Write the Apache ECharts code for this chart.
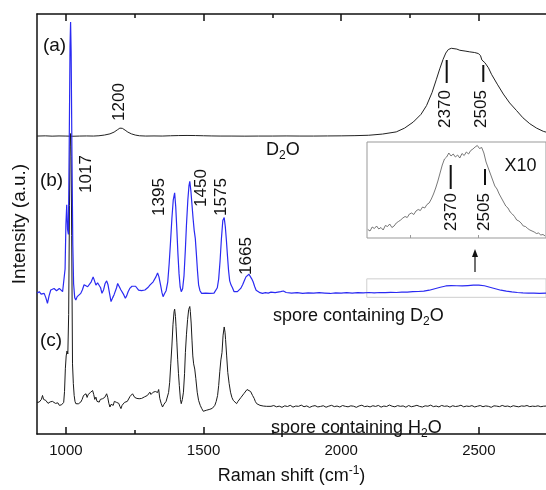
<!DOCTYPE html>
<html>
<head>
<meta charset="utf-8">
<script src="https://cdn.jsdelivr.net/npm/echarts@6/dist/echarts.min.js"></script>
<style>
  html, body { margin: 0; padding: 0; background: #fff; }
  #chart { width: 546px; height: 490px; }
</style>
</head>
<body>
<div id="chart"></div>
<script>
// Raman spectra: (a) D2O, (b) spore containing D2O, (c) spore containing H2O.
// Intensities are counts above each trace's own baseline; traces are stacked by an offset.

const X_MIN = 895;
const X_MAX = 2744;
const MAJOR_TICKS = [1000, 1500, 2000, 2500];
const MINOR_TICKS = [1250, 1750, 2250];
const INSET_TICKS = [2250, 2500];

// (a) pure D2O
const D2O = [
  [895,0],[925,2],[950,-1],[975,1],[1000,0],[1025,-2],[1050,0],[1075,1],[1100,0],
  [1120,3],[1140,10],[1160,22],[1175,40],[1188,65],[1196,80],[1200,82],[1205,78],
  [1215,60],[1225,40],[1238,22],[1252,10],[1267,3],[1290,0],[1320,1],[1350,0],
  [1380,3],[1410,5],[1440,6],[1470,5],[1500,3],[1530,1],[1560,0],[1600,0],[1650,-1],
  [1700,0],[1750,0],[1800,1],[1850,0],[1900,0],[1950,1],[2000,2],[2050,4],[2100,8],
  [2150,20],[2200,42],[2230,80],[2262,142],[2290,220],[2310,308],[2330,440],[2346,575],
  [2358,680],[2370,775],[2380,840],[2389,875],[2400,888],[2407,892],[2420,880],
  [2431,868],[2450,860],[2467,852],[2485,845],[2498,835],[2506,815],[2511,770],
  [2516,765],[2522,742],[2535,690],[2546,625],[2567,525],[2589,425],[2612,335],
  [2637,258],[2660,185],[2685,125],[2710,80],[2734,48],[2744,40]
];

// (b) spore containing D2O
const SPORE_D2O = [
  [895,5],[903,20],[910,-5],[916,10],[921,3],[927,-40],[933,-97],[939,-20],[945,37],
  [951,20],[957,53],[962,40],[966,30],[971,45],[976,53],[982,35],[988,20],[993,40],
  [997,250],[1000,700],[1003,900],[1006,650],[1009,600],[1012,1500],[1015,2500],
  [1017,2750],[1019,2450],[1022,1400],[1025,500],[1028,100],[1032,-40],[1036,-63],
  [1041,-30],[1047,-10],[1054,3],[1060,40],[1066,90],[1073,103],[1079,70],[1085,53],
  [1092,120],[1099,170],[1104,130],[1109,87],[1115,110],[1121,120],[1126,60],[1131,3],
  [1137,40],[1142,100],[1148,130],[1153,90],[1158,10],[1164,-80],[1170,-40],[1175,-10],
  [1179,3],[1184,60],[1188,103],[1194,70],[1200,37],[1205,20],[1210,-10],[1216,-47],
  [1221,-20],[1226,20],[1232,53],[1240,75],[1247,87],[1253,75],[1258,60],[1264,35],
  [1269,20],[1275,30],[1281,25],[1287,37],[1293,50],[1299,65],[1305,87],[1311,100],
  [1317,120],[1322,140],[1327,170],[1333,210],[1338,170],[1344,87],[1349,10],[1353,-30],
  [1358,0],[1364,30],[1370,120],[1375,300],[1380,520],[1385,760],[1390,950],[1395,1020],
  [1399,880],[1403,650],[1407,400],[1411,200],[1415,70],[1419,20],[1424,50],[1429,180],
  [1434,450],[1438,700],[1443,950],[1447,1090],[1450,1137],[1454,1040],[1458,900],
  [1462,760],[1466,640],[1470,560],[1474,400],[1478,230],[1482,90],[1487,30],[1493,3],
  [1500,15],[1508,5],[1515,12],[1523,3],[1530,10],[1538,5],[1545,20],[1550,60],[1555,150],
  [1560,330],[1565,560],[1570,740],[1575,770],[1579,680],[1583,540],[1587,380],[1591,230],
  [1595,130],[1600,87],[1605,60],[1611,20],[1617,3],[1623,20],[1629,40],[1635,53],
  [1642,90],[1648,130],[1654,170],[1660,190],[1665,197],[1670,180],[1675,150],[1680,120],
  [1686,70],[1691,35],[1696,20],[1705,10],[1714,3],[1725,10],[1735,5],[1745,15],
  [1760,10],[1780,20],[1790,27],[1800,12],[1820,5],[1840,10],[1860,3],[1880,8],[1900,5],
  [1920,10],[1940,6],[1960,2],[1980,8],[2000,5],[2020,10],[2040,6],[2060,10],[2080,8],
  [2100,12],[2120,8],[2140,12],[2160,10],[2180,14],[2200,12],[2220,16],[2240,15],
  [2260,20],[2280,22],[2300,25],[2320,35],[2340,50],[2360,65],[2380,78],[2400,82],
  [2420,80],[2440,78],[2460,82],[2480,86],[2500,87],[2520,80],[2540,65],[2560,50],
  [2580,35],[2600,25],[2620,18],[2640,12],[2660,8],[2680,5],[2700,6],[2720,3],[2744,5]
];

// (c) spore containing H2O, band region
const SPORE_H2O = [
  [895,10],[899,5],[903,13],[907,20],[911,40],[915,80],[919,40],[923,25],[927,30],[931,10],
  [935,0],[939,-3],[943,15],[947,5],[951,20],[957,13],[962,0],[966,-10],[971,5],[976,-20],
  [980,-10],[984,-15],[988,-20],[992,10],[995,120],[998,350],[1001,480],[1004,530],
  [1007,500],[1010,900],[1013,2000],[1015,2600],[1017,2730],[1019,2500],[1021,1700],
  [1024,400],[1027,200],[1030,80],[1033,20],[1036,-3],[1040,10],[1045,-5],[1050,15],
  [1054,13],[1059,40],[1064,80],[1069,70],[1073,97],[1077,60],[1081,90],[1085,80],
  [1089,110],[1093,90],[1097,130],[1101,90],[1105,40],[1109,63],[1113,20],[1117,30],
  [1121,13],[1125,40],[1129,60],[1133,47],[1137,30],[1141,60],[1145,80],[1148,97],
  [1152,60],[1156,0],[1160,-37],[1164,-10],[1168,-20],[1172,-20],[1176,20],[1180,40],
  [1184,10],[1188,30],[1192,0],[1196,-30],[1200,-53],[1204,-20],[1208,0],[1213,10],
  [1218,-3],[1223,20],[1228,40],[1233,70],[1238,80],[1242,97],[1246,80],[1250,60],
  [1254,70],[1258,50],[1262,40],[1266,47],[1270,60],[1275,50],[1280,70],[1285,65],
  [1291,63],[1296,80],[1301,70],[1305,113],[1309,90],[1313,110],[1317,113],[1321,100],
  [1325,120],[1329,130],[1333,110],[1337,140],[1341,50],[1346,0],[1351,-37],[1356,-10],
  [1360,10],[1364,20],[1368,30],[1373,110],[1377,213],[1381,400],[1385,580],[1389,800],
  [1393,930],[1395,953],[1398,880],[1400,780],[1403,620],[1406,447],[1409,300],[1412,180],
  [1416,40],[1419,-3],[1423,40],[1427,113],[1431,300],[1434,513],[1438,700],[1442,847],
  [1446,950],[1450,980],[1452,930],[1455,813],[1458,640],[1461,480],[1464,400],[1468,347],
  [1472,250],[1477,113],[1482,30],[1488,-20],[1493,-50],[1499,-80],[1504,-60],[1510,-70],
  [1516,-55],[1523,-60],[1528,-45],[1532,-50],[1537,-30],[1541,-20],[1546,20],[1551,80],
  [1555,180],[1559,320],[1563,440],[1567,513],[1571,690],[1575,773],[1578,720],[1580,647],
  [1584,480],[1588,313],[1593,200],[1598,113],[1603,60],[1608,30],[1614,10],[1620,-3],
  [1625,20],[1630,40],[1636,60],[1642,80],[1647,100],[1652,110],[1658,140],[1665,153],
  [1671,120],[1678,80],[1684,50],[1688,20],[1693,-3],[1699,-10],[1705,-20],[1711,-15],
  [1717,-27],[1723,-20],[1729,-30],[1735,-37]
];

// (c) flat high-shift tail, sampled every 10 cm-1 from 1745 to 2745
const H2O_TAIL_START = 1745;
const H2O_TAIL_STEP = 10;
const H2O_TAIL = [
  -30,-22,-35,-28,-40,-25,-32,-20,-38,-27,-30,-18,-34,-26,-41,-29,-23,-36,-31,-24,
  -39,-28,-20,-33,-27,-37,-22,-30,-35,-25,-29,-40,-26,-19,-33,-28,-36,-24,-31,-21,
  -38,-27,-32,-17,-29,-35,-23,-30,-26,-39,-22,-34,-28,-20,-31,-37,-25,-29,-18,-33,
  -27,-36,-21,-30,-26,-38,-24,-32,-28,-19,-35,-27,-31,-23,-36,-29,-22,-34,-26,-30,
  -40,-25,-28,-33,-21,-31,-27,-36,-24,-30,-35,-26,-29,-22,-33,-28,-31,-25,-34,-29,
  -27
];

// Inset: spore containing D2O, O-D stretching band magnified x10
const INSET_X_MIN = 2093;
const INSET_X_MAX = 2747;
const INSET_BAND = [
  [2096,85],[2104,70],[2112,110],[2120,95],[2128,120],[2136,90],[2144,105],[2152,80],
  [2160,125],[2168,115],[2176,140],[2184,105],[2192,120],[2200,150],[2208,165],[2216,180],
  [2224,200],[2232,215],[2240,205],[2248,240],[2256,250],[2264,235],[2272,270],[2280,285],
  [2288,275],[2296,310],[2304,300],[2312,335],[2320,350],[2328,390],[2336,440],[2344,500],
  [2352,570],[2360,650],[2368,730],[2376,790],[2384,810],[2392,850],[2400,820],[2408,840],
  [2416,810],[2424,830],[2432,800],[2440,845],[2448,825],[2456,860],[2464,840],[2472,875],
  [2480,890],[2488,910],[2496,925],[2504,895],[2512,905],[2520,850],[2528,760],[2536,700],
  [2544,640],[2552,580],[2560,520],[2568,490],[2576,440],[2584,400],[2592,360],[2600,320],
  [2608,300],[2616,260],[2624,240],[2632,215],[2640,180],[2648,170],[2656,150],[2664,120],
  [2672,115],[2680,95],[2688,80],[2696,70],[2704,60],[2712,45],[2720,50],[2728,30],
  [2736,35],[2744,20]
];

// Vertical stacking offsets for the three traces
const OFFSET_A = 3015;
const OFFSET_B = 1420;
const OFFSET_C = 310;

const FONT = "'Liberation Sans', Arial, sans-serif";

function shift(data, off) {
  return data.map(p => [p[0], p[1] + off]);
}

const h2oFull = SPORE_H2O.concat(
  H2O_TAIL.map((v, i) => [H2O_TAIL_START + i * H2O_TAIL_STEP, v])
);

const chart = echarts.init(document.getElementById('chart'), null, { renderer: 'canvas' });

function text(str, x, y, size, rotated) {
  return {
    type: 'text', x: x, y: y, rotation: rotated ? Math.PI / 2 : 0,
    style: {
      text: str, fill: '#111', fontSize: size, fontFamily: FONT,
      align: 'center', verticalAlign: 'middle'
    }
  };
}
function richText(str, x, y, size) {
  return {
    type: 'text', x: x, y: y,
    style: {
      text: str, fill: '#111', fontSize: size, fontFamily: FONT,
      align: 'left', verticalAlign: 'middle',
      rich: { sub: { fontSize: 12, fontFamily: FONT, fill: '#111', padding: [12, 0, 0, 0] } }
    }
  };
}
function bar(x, y1, y2) {
  return { type: 'line', shape: { x1: x, y1: y1, x2: x, y2: y2 }, style: { stroke: '#111', lineWidth: 2 } };
}

const axisBase = {
  type: 'value', min: X_MIN, max: X_MAX, gridIndex: 0,
  splitLine: { show: false }
};

const option = {
  animation: false,
  backgroundColor: '#fff',
  grid: [
    { left: 37, right: 0, top: 14, bottom: 51 },
    { left: 367, width: 180, top: 142, height: 96, show: true, borderColor: '#999', borderWidth: 1, backgroundColor: 'transparent' }
  ],
  xAxis: [
    Object.assign({}, axisBase, {
      position: 'bottom',
      axisLine: { show: true, onZero: false, lineStyle: { color: '#111', width: 1.5 } },
      axisTick: { show: true, inside: true, length: 7, customValues: MAJOR_TICKS, lineStyle: { color: '#111', width: 1.5 } },
      axisLabel: {
        show: true, customValues: MAJOR_TICKS, color: '#111', fontSize: 15, fontFamily: FONT, margin: 9,
        formatter: v => String(v)
      },
      name: 'Raman shift (cm{sup|-1})',
      nameLocation: 'middle', nameGap: 31,
      nameTextStyle: {
        color: '#111', fontSize: 18, fontFamily: FONT,
        rich: { sup: { fontSize: 12, fontFamily: FONT, color: '#111', padding: [0, 0, 10, 0] } }
      }
    }),
    Object.assign({}, axisBase, {
      position: 'top',
      axisLine: { show: true, onZero: false, lineStyle: { color: '#111', width: 1.5 } },
      axisTick: { show: true, inside: true, length: 7, customValues: MAJOR_TICKS, lineStyle: { color: '#111', width: 1.5 } },
      axisLabel: { show: false }
    }),
    Object.assign({}, axisBase, {
      position: 'bottom',
      axisLine: { show: false, onZero: false },
      axisTick: { show: true, inside: true, length: 4, customValues: MINOR_TICKS, lineStyle: { color: '#111', width: 1.5 } },
      axisLabel: { show: false }
    }),
    Object.assign({}, axisBase, {
      position: 'top',
      axisLine: { show: false, onZero: false },
      axisTick: { show: true, inside: true, length: 4, customValues: MINOR_TICKS, lineStyle: { color: '#111', width: 1.5 } },
      axisLabel: { show: false }
    }),
    {
      type: 'value', gridIndex: 1, min: INSET_X_MIN, max: INSET_X_MAX, position: 'bottom',
      splitLine: { show: false },
      axisLine: { show: false, onZero: false },
      axisTick: { show: true, inside: true, length: 3, customValues: INSET_TICKS, lineStyle: { color: '#999' } },
      axisLabel: { show: false }
    }
  ],
  yAxis: [
    {
      type: 'value', gridIndex: 0, min: 0, max: 4250,
      axisLine: { show: true, onZero: false, lineStyle: { color: '#111', width: 1.5 } },
      axisTick: { show: false }, axisLabel: { show: false }, splitLine: { show: false },
      name: 'Intensity (a.u.)', nameLocation: 'middle', nameGap: 8, nameRotate: 90,
      nameTextStyle: { color: '#111', fontSize: 19, fontFamily: FONT }
    },
    {
      type: 'value', gridIndex: 1, min: 0, max: 960, show: false
    }
  ],
  series: [
    {
      name: 'D2O', type: 'line', xAxisIndex: 0, yAxisIndex: 0,
      data: shift(D2O, OFFSET_A), showSymbol: false, symbol: 'none',
      lineStyle: { color: '#222', width: 1 }, z: 2
    },
    {
      name: 'spore containing H2O', type: 'line', xAxisIndex: 0, yAxisIndex: 0,
      data: shift(h2oFull, OFFSET_C), showSymbol: false, symbol: 'none',
      lineStyle: { color: '#1a1a1a', width: 1 }, z: 2
    },
    {
      name: 'spore containing D2O', type: 'line', xAxisIndex: 0, yAxisIndex: 0,
      data: shift(SPORE_D2O, OFFSET_B), showSymbol: false, symbol: 'none',
      lineStyle: { color: '#2a2af2', width: 1.2 }, z: 3,
      markArea: {
        silent: true,
        itemStyle: { color: 'rgba(0,0,0,0)', borderColor: '#cfcfcf', borderWidth: 1 },
        data: [[{ xAxis: INSET_X_MIN, yAxis: OFFSET_B + 150 }, { xAxis: INSET_X_MAX, yAxis: OFFSET_B - 37 }]]
      }
    },
    {
      name: 'inset', type: 'line', xAxisIndex: 4, yAxisIndex: 1,
      data: INSET_BAND, showSymbol: false, symbol: 'none',
      lineStyle: { color: '#555', width: 0.8 }, z: 3
    }
  ],
  graphic: [
    text('(a)', 54.5, 46, 19),
    text('(b)', 51.5, 181, 19),
    text('(c)', 51, 341, 19),
    text('1017', 86, 174, 17, true),
    text('1200', 119, 102, 17, true),
    text('1395', 159, 197, 17, true),
    text('1450', 201, 188, 17, true),
    text('1575', 221.5, 197, 17, true),
    text('1665', 246.5, 256, 17, true),
    text('2370', 445.5, 109, 17, true),
    text('2505', 481.5, 109, 17, true),
    text('2370', 451.5, 212, 17, true),
    text('2505', 484.5, 212, 17, true),
    text('X10', 520.5, 166.5, 18),
    bar(446.7, 60, 83),
    bar(483.3, 65, 82),
    bar(450.7, 165, 189),
    bar(485, 169, 185),
    richText('D{sub|2}O', 266, 150, 18),
    richText('spore containing D{sub|2}O', 273, 316, 18),
    richText('spore containing H{sub|2}O', 271, 428, 18),
    { type: 'line', shape: { x1: 475, y1: 272, x2: 475, y2: 256 }, style: { stroke: '#111', lineWidth: 1.2 } },
    { type: 'polygon', shape: { points: [[475, 249], [472, 257], [478, 257]] }, style: { fill: '#111' } }
  ]
};

chart.setOption(option);
</script>
</body>
</html>
